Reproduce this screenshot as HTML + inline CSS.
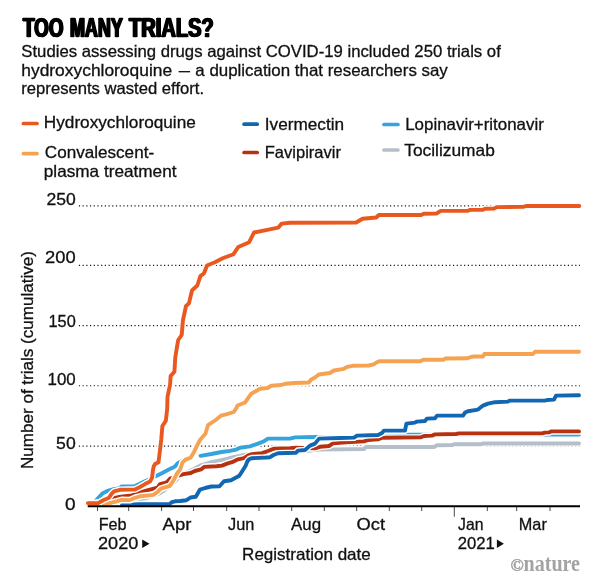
<!DOCTYPE html>
<html lang="en">
<head>
<meta charset="utf-8">
<title>Too many trials?</title>
<style>
html,body{margin:0;padding:0;background:#fff;}
body{width:600px;height:581px;overflow:hidden;}
svg{display:block;}
text{font-family:"Liberation Sans",Arial,sans-serif;fill:#111;}
.t{font-size:16.5px;stroke:#111;stroke-width:0.3px;}
body{position:relative;}
.tw{position:absolute;top:13.9px;font-family:"Liberation Sans",Arial,sans-serif;font-weight:bold;font-size:27.7px;line-height:27.7px;color:#000;white-space:nowrap;transform-origin:0 0;-webkit-text-stroke:0.7px #000;}
.nat{font-family:"Liberation Serif","Times New Roman",serif;font-weight:bold;fill:#a3a3a3;}
.ln{fill:none;stroke-linecap:round;stroke-linejoin:round;}
</style>
</head>
<body>
<svg width="600" height="581" viewBox="0 0 600 581">
<rect width="600" height="581" fill="#fff"/>
<text class="t" x="21.3" y="56.6" textLength="479.5" lengthAdjust="spacingAndGlyphs">Studies assessing drugs against COVID-19 included 250 trials of</text>
<text class="t" y="75.6"><tspan x="21.3" textLength="150.8" lengthAdjust="spacingAndGlyphs">hydroxychloroquine</tspan> <tspan x="178.75" textLength="11.25" lengthAdjust="spacingAndGlyphs">—</tspan> <tspan x="195.3" textLength="252.5" lengthAdjust="spacingAndGlyphs">a duplication that researchers say</tspan></text>
<text class="t" x="21.3" y="94.2" textLength="182.8" lengthAdjust="spacingAndGlyphs">represents wasted effort.</text>
<line x1="23.4" y1="123.5" x2="37" y2="123.5" stroke="#E9581F" stroke-width="3.7" stroke-linecap="round"/>
<text class="t" x="43.8" y="128.3" textLength="152.0" lengthAdjust="spacingAndGlyphs">Hydroxychloroquine</text>
<line x1="23.4" y1="153.6" x2="37" y2="153.6" stroke="#F5A353" stroke-width="3.7" stroke-linecap="round"/>
<text class="t" x="44.8" y="158.3" textLength="109.3" lengthAdjust="spacingAndGlyphs">Convalescent-</text>
<text class="t" x="43.8" y="176.7" textLength="132.7" lengthAdjust="spacingAndGlyphs">plasma treatment</text>
<line x1="244.1" y1="124.2" x2="257.2" y2="124.2" stroke="#1267B3" stroke-width="3.7" stroke-linecap="round"/>
<text class="t" x="264.8" y="129.8" textLength="79.3" lengthAdjust="spacingAndGlyphs">Ivermectin</text>
<line x1="244.1" y1="152.5" x2="257.2" y2="152.5" stroke="#B83211" stroke-width="3.7" stroke-linecap="round"/>
<text class="t" x="264.8" y="157.5" textLength="76.1" lengthAdjust="spacingAndGlyphs">Favipiravir</text>
<line x1="384" y1="124.5" x2="397.9" y2="124.5" stroke="#35A4DC" stroke-width="3.7" stroke-linecap="round"/>
<text class="t" x="405.2" y="129.6" textLength="138.6" lengthAdjust="spacingAndGlyphs">Lopinavir+ritonavir</text>
<line x1="384" y1="150" x2="397.9" y2="150" stroke="#B5BFC9" stroke-width="3.7" stroke-linecap="round"/>
<text class="t" x="404.3" y="155.8" textLength="90.5" lengthAdjust="spacingAndGlyphs">Tocilizumab</text>
<line x1="78.9" y1="205.8" x2="579.9" y2="205.8" stroke="#111" stroke-width="1.15" stroke-dasharray="1.15 2.554"/>
<line x1="78.9" y1="265.4" x2="579.9" y2="265.4" stroke="#111" stroke-width="1.15" stroke-dasharray="1.15 2.554"/>
<line x1="78.9" y1="325.6" x2="579.9" y2="325.6" stroke="#111" stroke-width="1.15" stroke-dasharray="1.15 2.554"/>
<line x1="78.9" y1="385.7" x2="579.9" y2="385.7" stroke="#111" stroke-width="1.15" stroke-dasharray="1.15 2.554"/>
<line x1="78.9" y1="446.1" x2="579.9" y2="446.1" stroke="#111" stroke-width="1.15" stroke-dasharray="1.15 2.554"/>
<text class="t" x="46.4" y="204.8" textLength="29.3" lengthAdjust="spacingAndGlyphs">250</text>
<text class="t" x="45.1" y="262.5" textLength="30.6" lengthAdjust="spacingAndGlyphs">200</text>
<text class="t" x="48.5" y="326.7" textLength="27.2" lengthAdjust="spacingAndGlyphs">150</text>
<text class="t" x="47.5" y="384.8" textLength="28.2" lengthAdjust="spacingAndGlyphs">100</text>
<text class="t" x="56.1" y="449.3" textLength="19.6" lengthAdjust="spacingAndGlyphs">50</text>
<text class="t" x="65.1" y="509.6" textLength="10.6" lengthAdjust="spacingAndGlyphs">0</text>
<text class="t" transform="translate(33.4,469) rotate(-90)" textLength="218" lengthAdjust="spacingAndGlyphs">Number of trials (cumulative)</text>
<path class="ln" d="M100.0,503.5 L120.0,502.0 L140.0,500.0 L151.7,496.4 L160.0,493.1 L165.0,489.8 L170.0,486.1 L175.0,481.3 L179.6,476.5 L184.0,473.8 L190.0,471.0 L200.0,465.7 L211.3,462.2 L220.0,460.3 L227.8,458.6 L232.0,457.4 L247.0,454.4 L262.0,452.6 L306.0,451.0 L319.0,449.6 L364.0,449.0 L366.0,447.0 L434.0,447.0 L437.0,445.3 L452.0,445.1 L454.0,444.3 L481.0,444.2 L483.5,443.5 L579.0,443.5" stroke="#fff" stroke-width="6.7"/>
<path class="ln" d="M100.0,503.5 L120.0,502.0 L140.0,500.0 L151.7,496.4 L160.0,493.1 L165.0,489.8 L170.0,486.1 L175.0,481.3 L179.6,476.5 L184.0,473.8 L190.0,471.0 L200.0,465.7 L211.3,462.2 L220.0,460.3 L227.8,458.6 L232.0,457.4 L247.0,454.4 L262.0,452.6 L306.0,451.0 L319.0,449.6 L364.0,449.0 L366.0,447.0 L434.0,447.0 L437.0,445.3 L452.0,445.1 L454.0,444.3 L481.0,444.2 L483.5,443.5 L579.0,443.5" stroke="#B5BFC9" stroke-width="3.9"/>
<path class="ln" d="M93.1,504.0 L96.1,500.3 L100.3,495.8 L102.8,493.2 L107.8,490.8 L113.6,489.1 L119.4,488.2 L121.5,486.4 L130.0,486.5 L135.0,486.1 L139.2,484.1 L142.5,482.4 L148.0,480.0 L152.0,478.0 L156.7,475.8 L163.3,472.4 L169.2,469.3 L173.3,467.4 L175.2,466.3 L177.7,463.2 L180.3,462.0 L184.0,459.5 L188.0,457.8M200.5,455.8 L211.3,454.0 L221.6,452.0 L230.0,450.9 L236.0,449.6 L240.0,447.8 L250.0,446.4 L258.0,443.6 L264.0,441.2 L268.0,438.6 L290.0,438.6 L295.0,437.4 L317.0,437.0 L355.0,437.0 L362.0,436.0 L385.0,434.6 L579.0,434.6" stroke="#fff" stroke-width="6.7"/>
<path class="ln" d="M93.1,504.0 L96.1,500.3 L100.3,495.8 L102.8,493.2 L107.8,490.8 L113.6,489.1 L119.4,488.2 L121.5,486.4 L130.0,486.5 L135.0,486.1 L139.2,484.1 L142.5,482.4 L148.0,480.0 L152.0,478.0 L156.7,475.8 L163.3,472.4 L169.2,469.3 L173.3,467.4 L175.2,466.3 L177.7,463.2 L180.3,462.0 L184.0,459.5 L188.0,457.8M200.5,455.8 L211.3,454.0 L221.6,452.0 L230.0,450.9 L236.0,449.6 L240.0,447.8 L250.0,446.4 L258.0,443.6 L264.0,441.2 L268.0,438.6 L290.0,438.6 L295.0,437.4 L317.0,437.0 L355.0,437.0 L362.0,436.0 L385.0,434.6 L579.0,434.6" stroke="#35A4DC" stroke-width="3.9"/>
<path class="ln" d="M92.0,503.5 L100.0,502.0 L108.0,499.5 L117.5,497.3 L124.5,496.2 L130.7,495.8 L140.8,492.2 L150.0,489.6 L157.5,487.6 L160.0,484.1 L166.7,482.4 L170.0,478.7 L176.0,476.5 L183.4,474.1 L190.7,473.0 L194.8,471.0 L201.0,469.4 L204.1,466.9 L216.5,466.2 L222.0,465.6 L227.0,463.6 L232.0,462.2 L238.0,459.3 L244.0,458.2 L249.0,455.0 L252.0,454.1 L262.0,453.2 L268.0,451.0 L274.0,448.6 L290.0,448.2 L296.0,447.8 L315.0,448.4 L320.0,446.8 L329.0,446.0 L333.0,443.4 L346.0,442.4 L364.0,441.4 L368.0,440.0 L378.0,439.4 L382.0,437.7 L421.0,437.3 L424.0,436.0 L432.0,435.6 L435.0,434.4 L456.0,434.0 L459.0,433.4 L542.0,433.4 L545.0,432.6 L549.0,432.4 L551.0,431.4 L579.0,431.4" stroke="#fff" stroke-width="6.7"/>
<path class="ln" d="M92.0,503.5 L100.0,502.0 L108.0,499.5 L117.5,497.3 L124.5,496.2 L130.7,495.8 L140.8,492.2 L150.0,489.6 L157.5,487.6 L160.0,484.1 L166.7,482.4 L170.0,478.7 L176.0,476.5 L183.4,474.1 L190.7,473.0 L194.8,471.0 L201.0,469.4 L204.1,466.9 L216.5,466.2 L222.0,465.6 L227.0,463.6 L232.0,462.2 L238.0,459.3 L244.0,458.2 L249.0,455.0 L252.0,454.1 L262.0,453.2 L268.0,451.0 L274.0,448.6 L290.0,448.2 L296.0,447.8 L315.0,448.4 L320.0,446.8 L329.0,446.0 L333.0,443.4 L346.0,442.4 L364.0,441.4 L368.0,440.0 L378.0,439.4 L382.0,437.7 L421.0,437.3 L424.0,436.0 L432.0,435.6 L435.0,434.4 L456.0,434.0 L459.0,433.4 L542.0,433.4 L545.0,432.6 L549.0,432.4 L551.0,431.4 L579.0,431.4" stroke="#B83211" stroke-width="3.9"/>
<path class="ln" d="M122.0,505.0 L138.3,504.2 L169.5,504.0 L172.0,502.2 L175.0,501.3 L180.0,501.0 L186.5,500.2 L190.5,497.5 L195.8,496.8 L200.0,489.6 L205.1,488.0 L211.3,486.5 L219.5,486.2 L224.0,481.2 L231.0,480.2 L239.3,475.8 L242.5,470.8 L245.5,466.0 L247.5,461.0 L249.5,459.0 L252.0,458.2 L266.0,457.5 L270.0,457.2 L273.5,455.0 L278.0,453.3 L296.0,452.8 L298.0,450.6 L305.0,450.0 L310.0,445.6 L315.0,443.6 L319.0,438.6 L340.0,438.0 L354.0,437.6 L357.0,435.6 L378.0,435.0 L382.0,433.0 L384.0,430.6 L405.0,430.6 L406.4,423.6 L415.0,422.6 L417.0,421.6 L425.0,421.0 L427.0,418.6 L435.0,418.2 L437.0,415.6 L463.0,415.6 L465.0,412.6 L468.0,411.2 L478.0,409.6 L483.0,405.6 L488.0,403.6 L495.0,402.2 L508.0,401.6 L510.0,400.6 L545.0,400.6 L547.0,400.0 L554.0,399.6 L556.0,395.6 L579.0,395.2" stroke="#fff" stroke-width="6.7"/>
<path class="ln" d="M122.0,505.0 L138.3,504.2 L169.5,504.0 L172.0,502.2 L175.0,501.3 L180.0,501.0 L186.5,500.2 L190.5,497.5 L195.8,496.8 L200.0,489.6 L205.1,488.0 L211.3,486.5 L219.5,486.2 L224.0,481.2 L231.0,480.2 L239.3,475.8 L242.5,470.8 L245.5,466.0 L247.5,461.0 L249.5,459.0 L252.0,458.2 L266.0,457.5 L270.0,457.2 L273.5,455.0 L278.0,453.3 L296.0,452.8 L298.0,450.6 L305.0,450.0 L310.0,445.6 L315.0,443.6 L319.0,438.6 L340.0,438.0 L354.0,437.6 L357.0,435.6 L378.0,435.0 L382.0,433.0 L384.0,430.6 L405.0,430.6 L406.4,423.6 L415.0,422.6 L417.0,421.6 L425.0,421.0 L427.0,418.6 L435.0,418.2 L437.0,415.6 L463.0,415.6 L465.0,412.6 L468.0,411.2 L478.0,409.6 L483.0,405.6 L488.0,403.6 L495.0,402.2 L508.0,401.6 L510.0,400.6 L545.0,400.6 L547.0,400.0 L554.0,399.6 L556.0,395.6 L579.0,395.2" stroke="#1267B3" stroke-width="3.9"/>
<path class="ln" d="M103.2,503.9 L111.5,502.7 L115.7,501.6 L121.5,499.9 L130.0,500.1 L135.0,497.8 L140.8,496.2 L153.3,494.9 L157.5,492.0 L160.8,488.7 L170.0,485.8 L173.7,480.0 L177.0,473.5 L180.2,469.5 L182.4,462.7 L185.5,459.6 L190.7,457.6 L193.8,452.4 L196.8,446.2 L200.0,440.0 L205.4,433.8 L208.0,425.2 L215.7,420.0 L220.9,415.7 L226.0,414.4 L233.8,412.0 L236.4,408.0 L237.5,405.5 L245.0,402.5 L251.2,393.8 L260.0,388.8 L267.5,388.0 L271.2,385.8 L281.2,385.0 L285.0,383.8 L295.0,383.0 L308.8,382.5 L311.2,379.5 L315.0,377.5 L318.8,374.5 L330.0,373.0 L333.8,370.5 L343.8,368.8 L347.5,366.8 L352.5,365.8 L368.8,365.5 L373.7,364.3 L376.4,362.5 L379.2,361.2 L420.4,361.2 L423.2,359.8 L443.3,359.8 L445.2,358.5 L467.2,358.3 L470.8,357.0 L474.0,356.5 L483.0,356.5 L484.4,354.0 L533.0,354.0 L535.0,351.8 L579.0,351.8" stroke="#fff" stroke-width="6.7"/>
<path class="ln" d="M103.2,503.9 L111.5,502.7 L115.7,501.6 L121.5,499.9 L130.0,500.1 L135.0,497.8 L140.8,496.2 L153.3,494.9 L157.5,492.0 L160.8,488.7 L170.0,485.8 L173.7,480.0 L177.0,473.5 L180.2,469.5 L182.4,462.7 L185.5,459.6 L190.7,457.6 L193.8,452.4 L196.8,446.2 L200.0,440.0 L205.4,433.8 L208.0,425.2 L215.7,420.0 L220.9,415.7 L226.0,414.4 L233.8,412.0 L236.4,408.0 L237.5,405.5 L245.0,402.5 L251.2,393.8 L260.0,388.8 L267.5,388.0 L271.2,385.8 L281.2,385.0 L285.0,383.8 L295.0,383.0 L308.8,382.5 L311.2,379.5 L315.0,377.5 L318.8,374.5 L330.0,373.0 L333.8,370.5 L343.8,368.8 L347.5,366.8 L352.5,365.8 L368.8,365.5 L373.7,364.3 L376.4,362.5 L379.2,361.2 L420.4,361.2 L423.2,359.8 L443.3,359.8 L445.2,358.5 L467.2,358.3 L470.8,357.0 L474.0,356.5 L483.0,356.5 L484.4,354.0 L533.0,354.0 L535.0,351.8 L579.0,351.8" stroke="#F5A353" stroke-width="3.9"/>
<path class="ln" d="M87.9,503.1 L98.2,503.1 L103.2,500.2 L109.0,497.7 L111.5,493.9 L114.0,491.4 L119.8,489.8 L130.0,489.6 L135.0,489.5 L140.0,487.0 L145.0,484.1 L150.0,481.6 L152.1,477.8 L152.9,470.3 L153.8,466.2 L155.0,464.1 L158.5,462.3 L160.0,450.0 L161.2,440.0 L162.4,426.0 L165.8,420.9 L167.2,408.8 L167.5,396.8 L170.1,384.7 L170.6,376.1 L174.4,371.8 L175.3,357.2 L177.0,346.9 L178.2,340.0 L181.7,335.0 L182.9,320.5 L186.0,306.0 L188.9,303.6 L192.0,290.4 L197.3,285.5 L200.5,275.9 L203.9,273.5 L207.0,265.5 L214.9,262.2 L222.7,258.3 L233.5,254.2 L238.3,247.0 L249.2,242.2 L254.0,232.5 L266.0,230.1 L278.1,227.7 L281.7,223.6 L290.1,222.7 L356.2,222.5 L362.5,218.8 L376.2,217.5 L378.8,215.0 L421.2,215.0 L423.8,213.8 L436.5,213.5 L440.7,210.9 L468.0,210.7 L470.0,209.9 L483.0,209.7 L485.0,208.8 L494.0,208.6 L496.7,207.1 L523.3,206.9 L526.0,206.0 L579.3,206.0" stroke="#fff" stroke-width="6.7"/>
<path class="ln" d="M87.9,503.1 L98.2,503.1 L103.2,500.2 L109.0,497.7 L111.5,493.9 L114.0,491.4 L119.8,489.8 L130.0,489.6 L135.0,489.5 L140.0,487.0 L145.0,484.1 L150.0,481.6 L152.1,477.8 L152.9,470.3 L153.8,466.2 L155.0,464.1 L158.5,462.3 L160.0,450.0 L161.2,440.0 L162.4,426.0 L165.8,420.9 L167.2,408.8 L167.5,396.8 L170.1,384.7 L170.6,376.1 L174.4,371.8 L175.3,357.2 L177.0,346.9 L178.2,340.0 L181.7,335.0 L182.9,320.5 L186.0,306.0 L188.9,303.6 L192.0,290.4 L197.3,285.5 L200.5,275.9 L203.9,273.5 L207.0,265.5 L214.9,262.2 L222.7,258.3 L233.5,254.2 L238.3,247.0 L249.2,242.2 L254.0,232.5 L266.0,230.1 L278.1,227.7 L281.7,223.6 L290.1,222.7 L356.2,222.5 L362.5,218.8 L376.2,217.5 L378.8,215.0 L421.2,215.0 L423.8,213.8 L436.5,213.5 L440.7,210.9 L468.0,210.7 L470.0,209.9 L483.0,209.7 L485.0,208.8 L494.0,208.6 L496.7,207.1 L523.3,206.9 L526.0,206.0 L579.3,206.0" stroke="#E9581F" stroke-width="3.9"/>
<line x1="87.7" y1="506.2" x2="580" y2="506.2" stroke="#000" stroke-width="2.1"/>
<line x1="97.5" y1="507" x2="97.5" y2="511" stroke="#333" stroke-width="0.9"/>
<line x1="128.7" y1="507" x2="128.7" y2="511" stroke="#333" stroke-width="0.9"/>
<line x1="161.6" y1="507" x2="161.6" y2="511" stroke="#333" stroke-width="0.9"/>
<line x1="193.5" y1="507" x2="193.5" y2="511" stroke="#333" stroke-width="0.9"/>
<line x1="226.7" y1="507" x2="226.7" y2="511" stroke="#333" stroke-width="0.9"/>
<line x1="259" y1="507" x2="259" y2="511" stroke="#333" stroke-width="0.9"/>
<line x1="291.7" y1="507" x2="291.7" y2="511" stroke="#333" stroke-width="0.9"/>
<line x1="324.3" y1="507" x2="324.3" y2="511" stroke="#333" stroke-width="0.9"/>
<line x1="356.7" y1="507" x2="356.7" y2="511" stroke="#333" stroke-width="0.9"/>
<line x1="389.3" y1="507" x2="389.3" y2="511" stroke="#333" stroke-width="0.9"/>
<line x1="421.7" y1="507" x2="421.7" y2="511" stroke="#333" stroke-width="0.9"/>
<line x1="454.3" y1="507" x2="454.3" y2="516.7" stroke="#333" stroke-width="0.9"/>
<line x1="487.3" y1="507" x2="487.3" y2="511" stroke="#333" stroke-width="0.9"/>
<line x1="516.7" y1="507" x2="516.7" y2="511" stroke="#333" stroke-width="0.9"/>
<line x1="550" y1="507" x2="550" y2="511" stroke="#333" stroke-width="0.9"/>
<text class="t" x="98.7" y="529.9" textLength="27.9" lengthAdjust="spacingAndGlyphs">Feb</text>
<text class="t" x="98.0" y="549.1" textLength="40.3" lengthAdjust="spacingAndGlyphs">2020</text>
<path d="M142.2,539.6 L149.5,543.8 L142.2,548 Z" fill="#111"/>
<text class="t" x="162.6" y="529.8" textLength="28.8" lengthAdjust="spacingAndGlyphs">Apr</text>
<text class="t" x="228.1" y="529.8" textLength="26.3" lengthAdjust="spacingAndGlyphs">Jun</text>
<text class="t" x="291.1" y="529.8" textLength="30.0" lengthAdjust="spacingAndGlyphs">Aug</text>
<text class="t" x="356.5" y="529.8" textLength="28.5" lengthAdjust="spacingAndGlyphs">Oct</text>
<text class="t" x="458.1" y="529.8" textLength="25.4" lengthAdjust="spacingAndGlyphs">Jan</text>
<text class="t" x="457.7" y="548.8" textLength="37.0" lengthAdjust="spacingAndGlyphs">2021</text>
<path d="M496.9,539.6 L503.9,543.8 L496.9,548 Z" fill="#111"/>
<text class="t" x="518.8" y="529.8" textLength="28.0" lengthAdjust="spacingAndGlyphs">Mar</text>
<text class="t" x="242.1" y="560" textLength="128.7" lengthAdjust="spacingAndGlyphs">Registration date</text>
<text class="nat" stroke="#a3a3a3" stroke-width="0.5" x="510.6" y="571" font-size="17.5" textLength="13.2" lengthAdjust="spacingAndGlyphs">©</text>
<text class="nat" x="523.6" y="570.8" font-size="22.8" textLength="56.4" lengthAdjust="spacingAndGlyphs">nature</text>
</svg>
<div class="tw" style="left:23.44px;transform:scaleX(0.6801);text-shadow:1.323px 0 0 #000,-1.323px 0 0 #000;">TOO</div>
<div class="tw" style="left:69.83px;transform:scaleX(0.6480);text-shadow:1.389px 0 0 #000,-1.389px 0 0 #000;">MANY</div>
<div class="tw" style="left:128.65px;transform:scaleX(0.7242);text-shadow:1.243px 0 0 #000,-1.243px 0 0 #000;">TRIALS?</div>
</body>
</html>
